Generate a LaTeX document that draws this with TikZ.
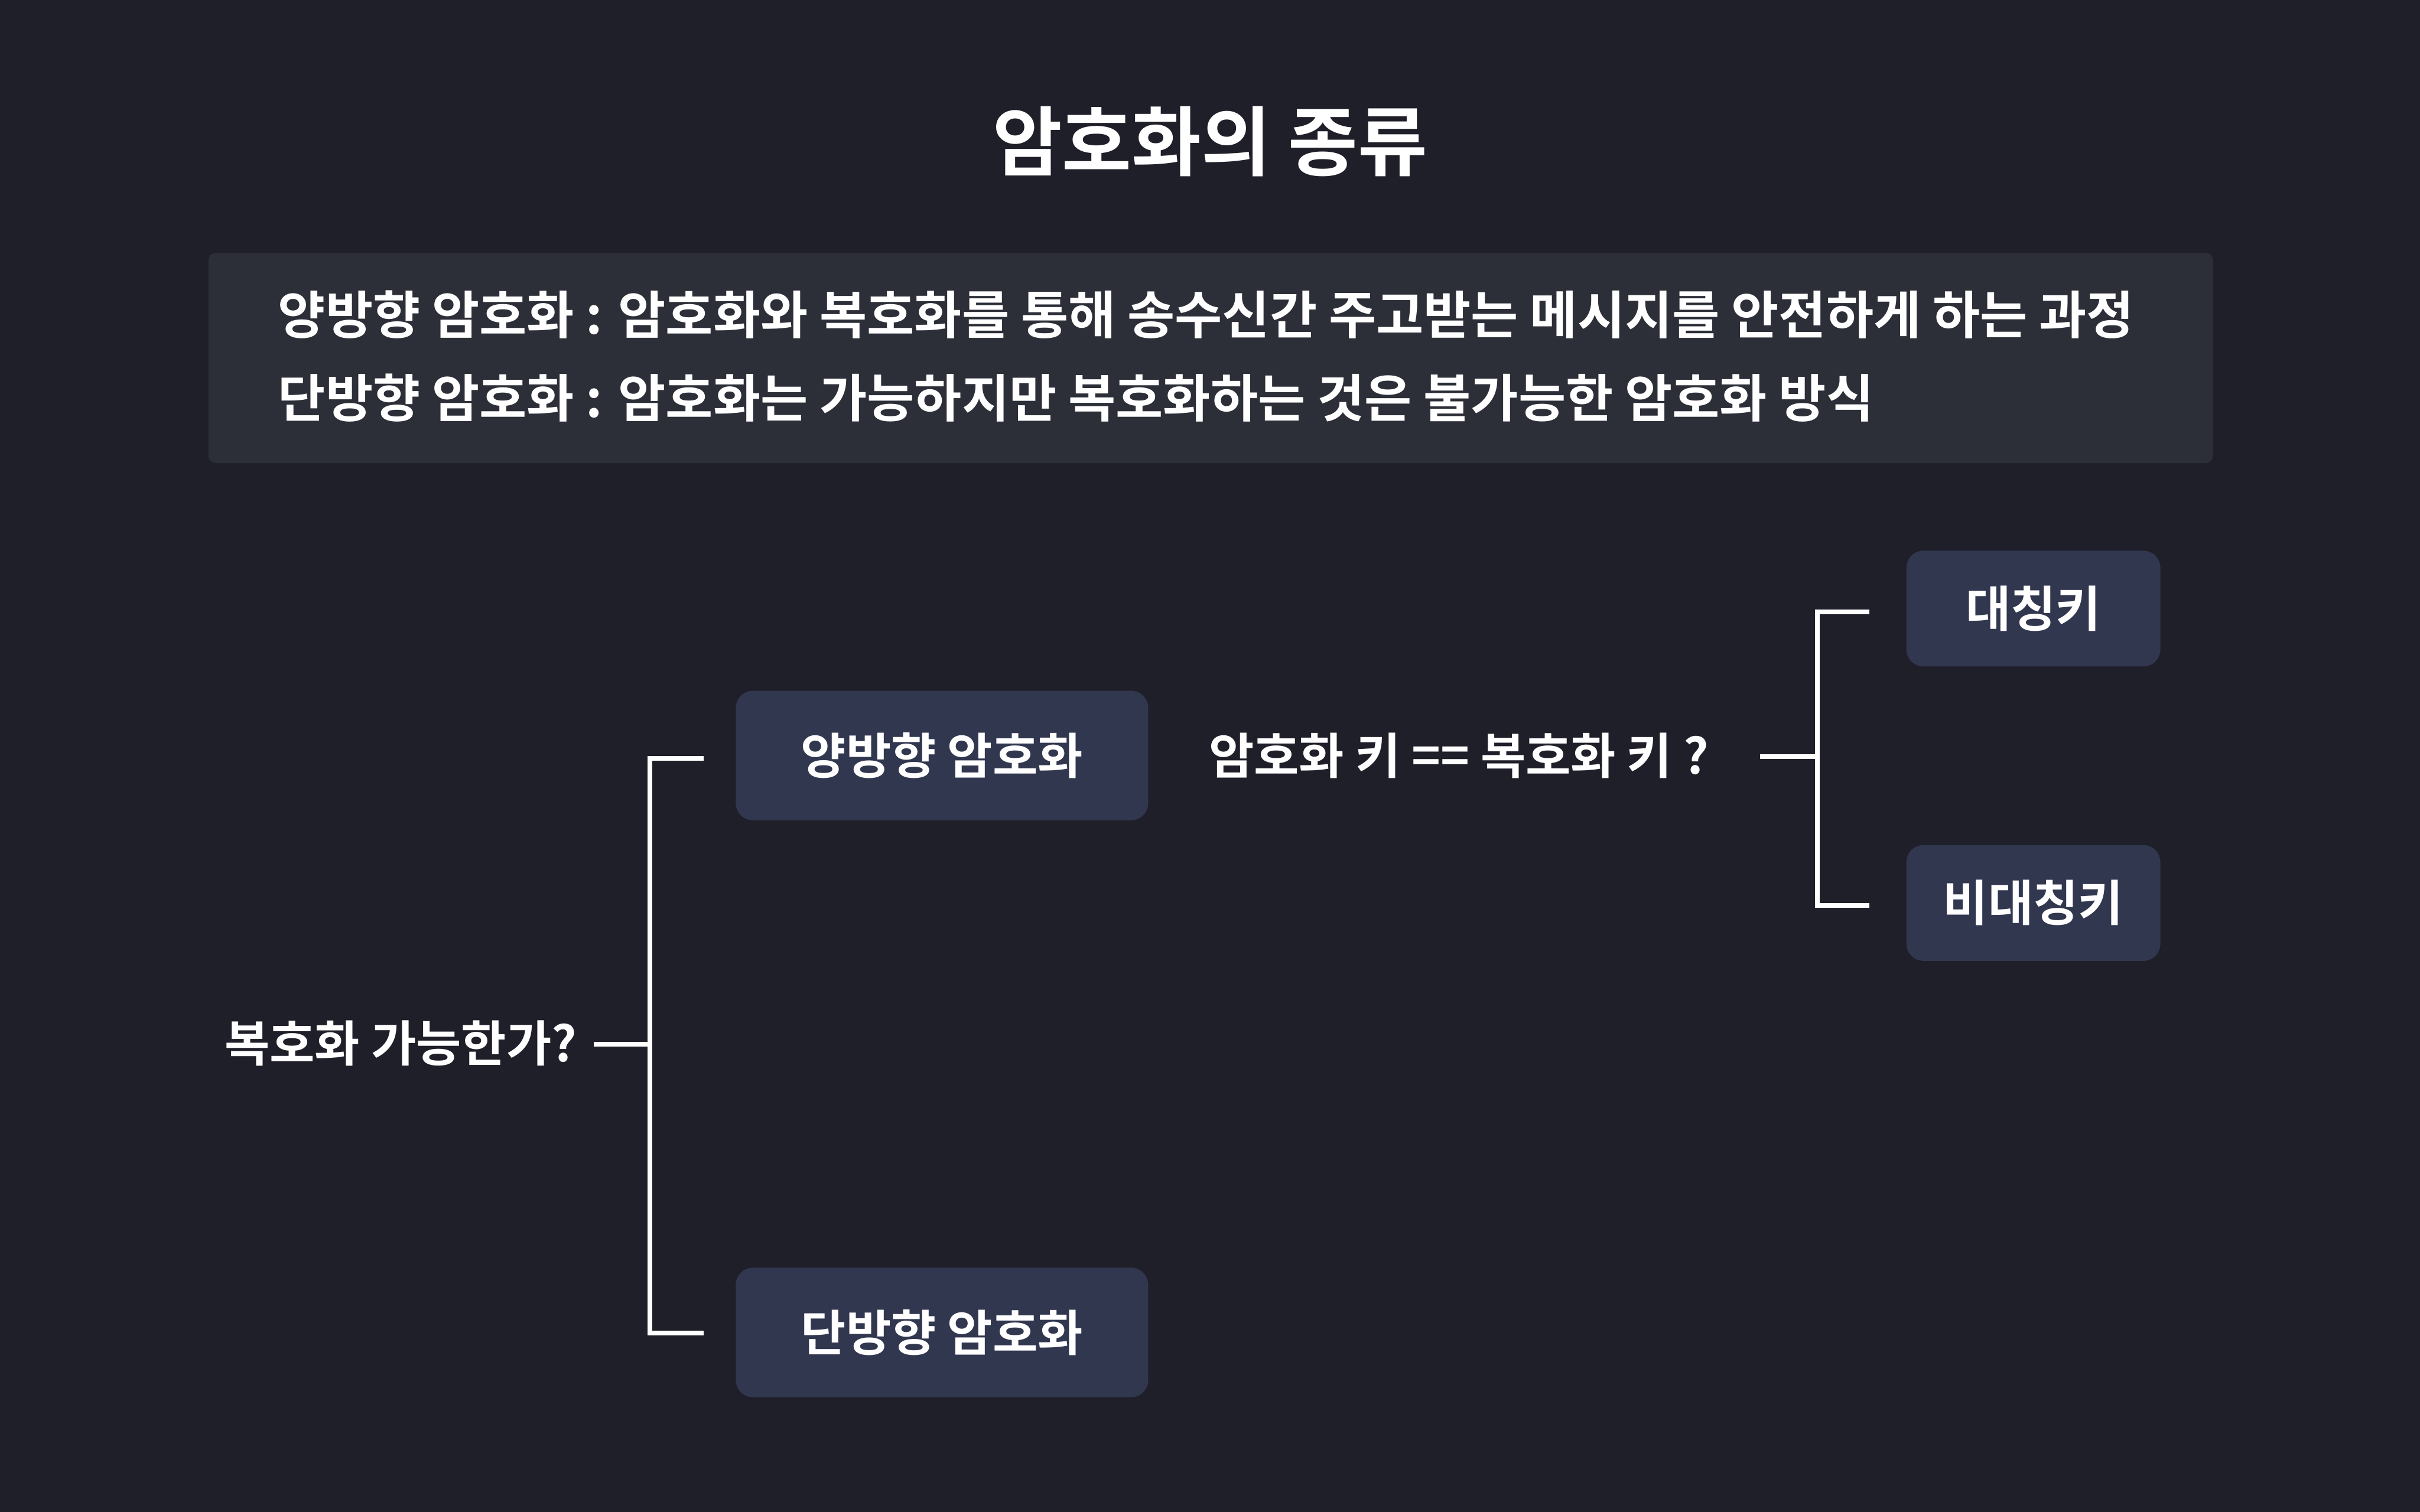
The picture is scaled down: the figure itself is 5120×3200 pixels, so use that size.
\documentclass[tikz,border=0pt]{standalone}
\usepackage{fontspec}
\setmainfont{Noto Sans CJK KR}[BoldFont={* Bold}]
\newfontfamily\kr{Noto Sans CJK KR Bold}
\definecolor{bgc}{HTML}{1F1F29}
\definecolor{panel}{HTML}{2D2F38}
\definecolor{boxc}{HTML}{323750}
\tikzset{
  conn/.style={draw=white, line width=0.1cm, line join=miter},
  keybox/.style={fill=boxc, rounded corners=0.36cm, text=white, inner sep=0pt,
    font=\kr\fontsize{29.5pt}{34pt}\selectfont},
  lbl/.style={text=white, inner sep=0pt, font=\kr\fontsize{29.5pt}{34pt}\selectfont},
  desc/.style={text=white, inner sep=0pt, anchor=west, font=\kr\fontsize{31pt}{36pt}\selectfont},
}
\begin{document}
\begin{tikzpicture}[x=0.01cm, y=-0.01cm]
\fill[bgc] (0,0) rectangle (5120,3200);
\useasboundingbox (0,0) rectangle (5120,3200);
\node[text=white, inner sep=0pt, font=\kr\fontsize{45.5pt}{52pt}\selectfont] (title) at (2560,300) {암호화의 종류};
\fill[panel, rounded corners=0.16cm] (441,535) rectangle (4682,980);
\node[desc] (d1) at (588,666) {양방향 암호화 : 암호화와 복호화를 통해 송수신간 주고받는 메시지를 안전하게 하는 과정};
\node[desc] (d2) at (588,842) {단방향 암호화 : 암호화는 가능하지만 복호화하는 것은 불가능한 암호화 방식};
\node[keybox, minimum width=8.72cm, minimum height=2.74cm] (two) at (1993,1599) {양방향 암호화};
\node[keybox, minimum width=8.72cm, minimum height=2.74cm] (one) at (1993,2820) {단방향 암호화};
\node[keybox, minimum width=5.37cm, minimum height=2.45cm] (sym) at (4302,1288) {대칭키};
\node[keybox, minimum width=5.37cm, minimum height=2.45cm] (asym) at (4302,1911) {비대칭키};
\node[lbl, anchor=east] (q1) at (1221,2208) {복호화 가능한가?};
\node[lbl, anchor=west] (q2) at (2557,1599) {암호화 키 == 복호화 키 ?};
% left bracket
\coordinate (ls) at ([xshift=0.35cm]q1.east |- 0,2210);
\coordinate (lj) at (1375,2210);
\coordinate (la1) at (1489,1605);
\coordinate (la2) at (1489,2821);
\draw[conn] (ls) -- (lj);
\draw[conn] (la1) -| (lj) |- (la2);
% right bracket
\coordinate (rs) at (3724,1601);
\coordinate (rj) at (3845,1601);
\coordinate (ra1) at (3955,1295);
\coordinate (ra2) at (3955,1916);
\draw[conn] (rs) -- (rj);
\draw[conn] (ra1) -| (rj) |- (ra2);
\end{tikzpicture}
\end{document}
